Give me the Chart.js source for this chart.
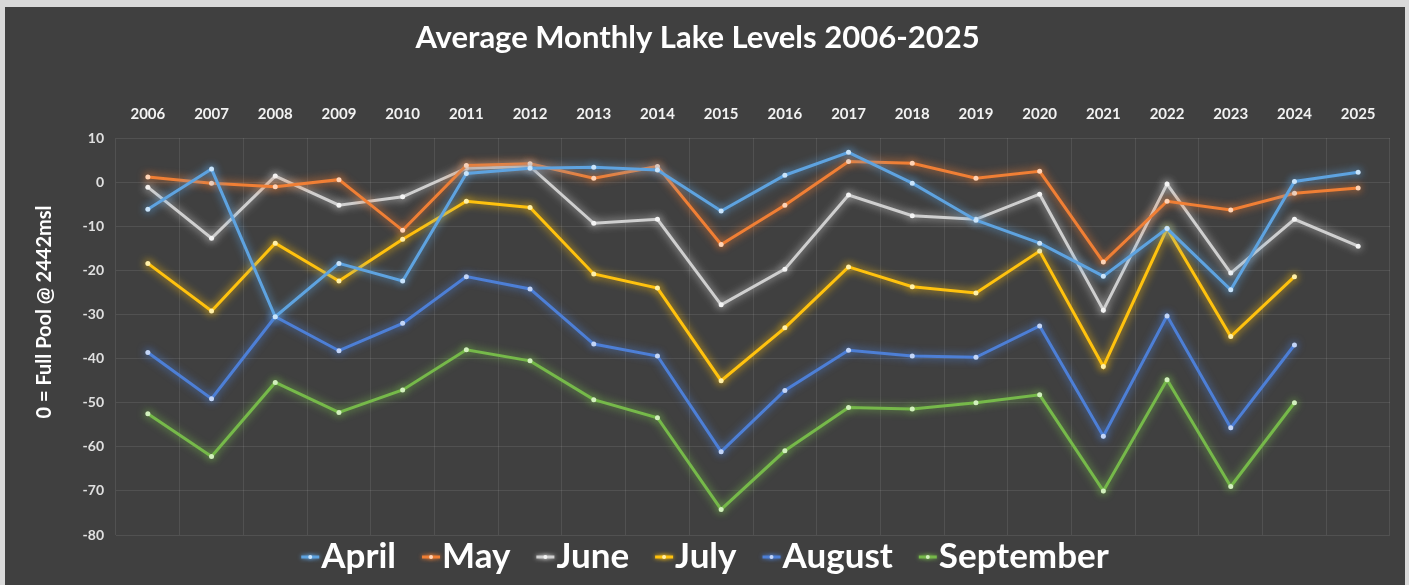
<!DOCTYPE html>
<html>
<head>
<meta charset="utf-8">
<script src="https://cdn.jsdelivr.net/npm/chart.js@4.4.1/dist/chart.umd.min.js"></script>
<style>
  html, body { margin: 0; padding: 0; background: #d9d9d9; }
  #wrap { position: absolute; left: 5px; top: 7px; width: 1400px; height: 578px; background: #404040; }
</style>
</head>
<body>
<div id="wrap"><canvas id="myChart"></canvas></div>
<script>
// data (feet below full pool)
const years = ['2006','2007','2008','2009','2010','2011','2012','2013','2014','2015',
               '2016','2017','2018','2019','2020','2021','2022','2023','2024','2025'];
const april  = [-6.1, 3.0, -30.5, -18.4, -22.4, 2.0, 3.2, 3.4, 2.8, -6.5, 1.6, 6.8, -0.2, -8.6, -13.8, -21.3, -10.5, -24.4, 0.2, 2.3];
const may    = [1.2, -0.2, -1.0, 0.6, -10.9, 3.8, 4.2, 0.9, 3.6, -14.1, -5.2, 4.7, 4.3, 0.9, 2.5, -18.1, -4.3, -6.3, -2.5, -1.3];
const june   = [-1.1, -12.7, 1.4, -5.2, -3.3, 3.2, 3.6, -9.3, -8.4, -27.8, -19.7, -2.9, -7.6, -8.4, -2.7, -29.0, -0.4, -20.6, -8.4, -14.5];
const july   = [-18.4, -29.2, -13.8, -22.4, -12.9, -4.3, -5.7, -20.8, -24.0, -45.0, -33.0, -19.2, -23.7, -25.1, -15.6, -41.8, -10.5, -35.0, -21.4, null];
const august = [-38.6, -49.1, -30.5, -38.2, -32.0, -21.4, -24.2, -36.7, -39.4, -61.1, -47.2, -38.1, -39.4, -39.7, -32.6, -57.6, -30.3, -55.7, -36.9, null];
const september = [-52.5, -62.2, -45.4, -52.2, -47.1, -38.0, -40.5, -49.3, -53.4, -74.2, -60.9, -51.1, -51.4, -50.0, -48.2, -70.0, -44.8, -69.0, -50.0, null];
const yTicks = [10, 0, -10, -20, -30, -40, -50, -60, -70, -80];

const names  = ['April', 'May', 'June', 'July', 'August', 'September'];
const series = [april, may, june, july, august, september];
const colors = ['#5ea3e0', '#f07f35', '#cfcfcf', '#ffc20e', '#4d7fd6', '#76b94a'];
const dots   = ['#c9e4fb', '#ffd3b5', '#f4f4f4', '#fff0a8', '#c3d5f7', '#d2f0bd'];
const yTitle = '0 = Full Pool @ 2442msl';

const FONT = 'Lato, "Open Sans", sans-serif';

// soft glow round every line, like the original
const glow = {
  id: 'glow',
  beforeDatasetDraw(chart, args) {
    const ds = chart.data.datasets[args.index];
    chart.ctx.save();
    chart.ctx.shadowColor = ds.borderColor;
    chart.ctx.shadowBlur = 9;
  },
  afterDatasetDraw(chart) {
    chart.ctx.restore();
  }
};

// y title sits a bit above the middle of the plot in the original
const sideTitle = {
  id: 'sideTitle',
  afterDraw(chart) {
    const ctx = chart.ctx;
    ctx.save();
    ctx.translate(40, 305);
    ctx.rotate(-Math.PI / 2);
    ctx.font = 'bold 20px ' + FONT;
    ctx.fillStyle = '#ffffff';
    ctx.textAlign = 'center';
    ctx.textBaseline = 'middle';
    ctx.fillText(yTitle, 0, 0);
    ctx.restore();
  }
};

// legend along the bottom: short line marker right against the label
const bottomLegend = {
  id: 'bottomLegend',
  afterDraw(chart) {
    const ctx = chart.ctx;
    ctx.save();
    ctx.font = 'bold 35px ' + FONT;
    ctx.textBaseline = 'middle';
    const items = chart.data.datasets.map(d => ({
      text: d.label, color: d.borderColor, dot: d.pointBackgroundColor,
      w: ctx.measureText(d.label).width
    }));
    const mark = 18, gap = 2, space = 26;
    const total = items.reduce((a, it) => a + mark + gap + it.w, 0) + space * (items.length - 1);
    let x = (chart.width - total) / 2;
    const y = 550;
    items.forEach(it => {
      ctx.save();
      ctx.shadowColor = it.color;
      ctx.shadowBlur = 4;
      ctx.strokeStyle = it.color;
      ctx.lineWidth = 3;
      ctx.beginPath();
      ctx.moveTo(x, y);
      ctx.lineTo(x + mark, y);
      ctx.stroke();
      ctx.fillStyle = it.dot;
      ctx.beginPath();
      ctx.arc(x + mark / 2, y, 2, 0, Math.PI * 2);
      ctx.fill();
      ctx.restore();
      ctx.fillStyle = '#ffffff';
      ctx.fillText(it.text, x + mark + gap, y);
      x += mark + gap + it.w + space;
    });
    ctx.restore();
  }
};

const ctx = document.getElementById('myChart');
new Chart(ctx, {
  type: 'line',
  data: {
    labels: years,
    datasets: series.map((vals, i) => ({
      label: names[i],
      data: vals,
      borderColor: colors[i],
      backgroundColor: colors[i],
      pointBackgroundColor: dots[i],
      pointBorderWidth: 0,
      pointRadius: 2.5,
      borderWidth: 3,
      tension: 0,
      spanGaps: false
    }))
  },
  options: {
    responsive: true,
    maintainAspectRatio: false,
    animation: false,
    layout: { padding: { left: 0, right: 15, top: 0, bottom: 50 } },
    plugins: {
      legend: { display: false },
      tooltip: { enabled: false },
      title: {
        display: true,
        text: 'Average Monthly Lake Levels 2006-2025',
        color: '#ffffff',
        font: { family: FONT, size: 31, weight: 'bold' },
        padding: { top: 12, bottom: 17 }
      }
    },
    scales: {
      x: {
        position: 'top',
        offset: true,
        grid: { offset: true, color: 'rgba(255,255,255,0.09)', drawTicks: false },
        border: { display: false },
        ticks: { color: '#f2f2f2', font: { family: FONT, size: 15, weight: 'bold' }, padding: 15, maxRotation: 0 },
        afterFit(s) { s.height = 65; }
      },
      y: {
        min: -80,
        max: 10,
        afterBuildTicks(s) { s.ticks = yTicks.map(v => ({ value: v })); },
        grid: { color: 'rgba(255,255,255,0.09)', drawTicks: false },
        border: { display: false },
        ticks: { color: '#e0e0e0', font: { family: FONT, size: 14, weight: 'bold' }, padding: 12 },
        afterFit(s) { s.width = 111; }
      }
    }
  },
  plugins: [glow, sideTitle, bottomLegend]
});
</script>
</body>
</html>
